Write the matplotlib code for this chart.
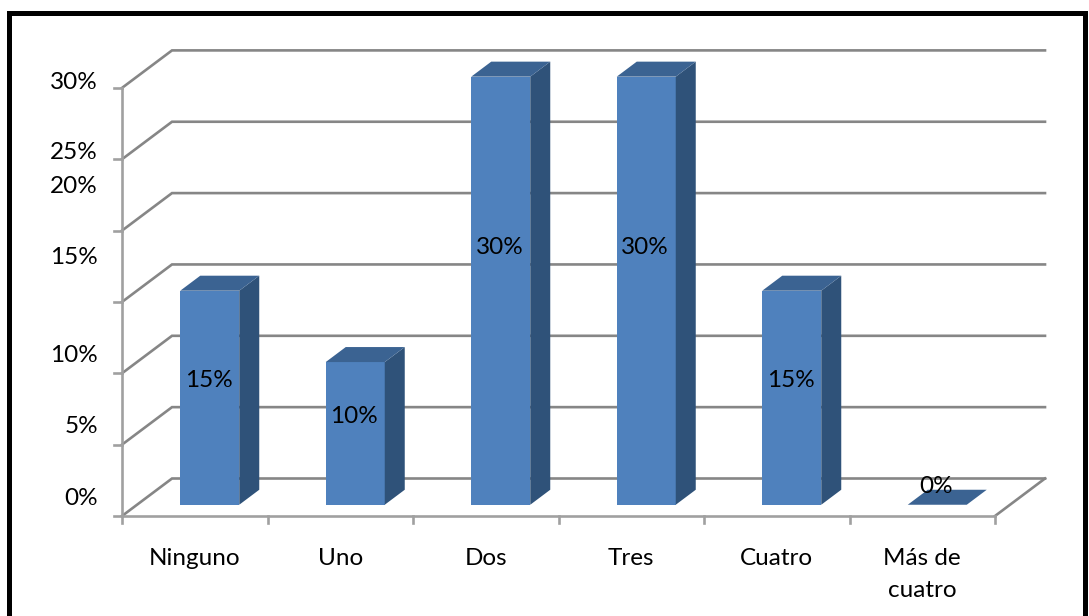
import matplotlib
matplotlib.use("Agg")
import matplotlib.pyplot as plt
from matplotlib.patches import Polygon, Rectangle

plt.rcParams['font.family'] = ['Lato', 'DejaVu Sans']

categories = ['Ninguno', 'Uno', 'Dos', 'Tres', 'Cuatro', 'Más de\ncuatro']
values = [15, 10, 30, 30, 15, 0]
value_labels = ['15%', '10%', '30%', '30%', '15%', '0%']
y_ticks = [0, 5, 10, 15, 20, 25, 30]
y_tick_labels = ['0%', '5%', '10%', '15%', '20%', '25%', '30%']

# scale of the chart: one category and one percent in pixels
W, H = 1089, 616
X0, Y0 = 122, 516
CAT_PX = 145.5
PCT_PX = 14.27
# depth of the 3d box, in data units
DX = 50 / CAT_PX
DY = 37.5 / PCT_PX
BAR_W = 59 / CAT_PX
F0, F1 = 0.30, 0.70

# where the labels sit in the reference, in percent units (they are not regular)
y_label_pos = [1.2, 6.3, 11.25, 18.1, 23.1, 25.5, 30.4]
value_label_pos = [9.5, 7.0, 18.8, 18.8, 9.5, 2.1]

GRID = '#868686'
AXIS = '#a0a0a0'
FRONT = '#4f81bd'
SIDE = '#2f5279'
TOP = '#3b6392'

fig = plt.figure(figsize=(W / 100, H / 100), dpi=100)
ax = fig.add_axes([0, 0, 1, 1])
ax.set_xlim(-X0 / CAT_PX, (W - X0) / CAT_PX)
ax.set_ylim((Y0 - H) / PCT_PX, Y0 / PCT_PX)
ax.axis('off')

n = len(categories)
lw = 1.9

# walls
for t in y_ticks:
    ax.plot([0, DX, n + DX], [t, t + DY, t + DY], color=GRID, lw=lw, zorder=1,
            solid_joinstyle='miter')
    ax.plot([-8 / CAT_PX, 0], [t, t], color=AXIS, lw=lw, zorder=2)
ax.plot([n, n + DX], [0, DY], color=GRID, lw=lw, zorder=1)
ax.plot([0, 0], [-7 / PCT_PX, y_ticks[-1]], color=AXIS, lw=lw, zorder=2)
ax.plot([0, n], [0, 0], color=AXIS, lw=lw, zorder=2)
for i in range(1, n + 1):
    ax.plot([i, i], [-7 / PCT_PX, 0], color=AXIS, lw=lw, zorder=2)

# bars
for i, v in enumerate(values):
    x0 = i + 0.5 - BAR_W / 2 + F0 * DX
    x1 = x0 + BAR_W
    y0 = F0 * DY
    dx = (F1 - F0) * DX
    dy = (F1 - F0) * DY
    if v > 0:
        ax.add_patch(Rectangle((x0, y0), BAR_W, v, fc=FRONT, ec='none', zorder=3))
        ax.add_patch(Polygon([(x1, y0), (x1 + dx, y0 + dy), (x1 + dx, y0 + dy + v), (x1, y0 + v)],
                             fc=SIDE, ec='none', zorder=3))
    ax.add_patch(Polygon([(x0, y0 + v), (x1, y0 + v), (x1 + dx, y0 + dy + v), (x0 + dx, y0 + dy + v)],
                         fc=TOP, ec='none', zorder=3))
    ax.text(x0 + BAR_W / 2 - 1 / CAT_PX, value_label_pos[i], value_labels[i], ha='center',
            va='center', fontsize=17.5, color='black', zorder=4)

# tick labels
for lab, pos in zip(y_tick_labels, y_label_pos):
    ax.text(-24 / CAT_PX, pos, lab, ha='right', va='center', fontsize=17.5, color='black')
for i, lab in enumerate(categories):
    ax.text(i + 0.5, -32 / PCT_PX, lab, ha='center', va='top', fontsize=17.5, color='black',
            linespacing=1.62)

# black frame of the picture, cut off at the bottom
ax.plot([-X0 / CAT_PX + 9 / CAT_PX] * 2, [(Y0 - H) / PCT_PX, (Y0 - 13) / PCT_PX],
        color='black', lw=3.6, zorder=5, solid_capstyle='projecting')
ax.plot([-X0 / CAT_PX + 9 / CAT_PX, (W - X0 - 4) / CAT_PX], [(Y0 - 13) / PCT_PX] * 2,
        color='black', lw=3.6, zorder=5, solid_capstyle='projecting')
ax.plot([(W - X0 - 4) / CAT_PX] * 2, [(Y0 - H) / PCT_PX, (Y0 - 13) / PCT_PX],
        color='black', lw=3.6, zorder=5, solid_capstyle='projecting')

fig.savefig('out.png', dpi=100)
